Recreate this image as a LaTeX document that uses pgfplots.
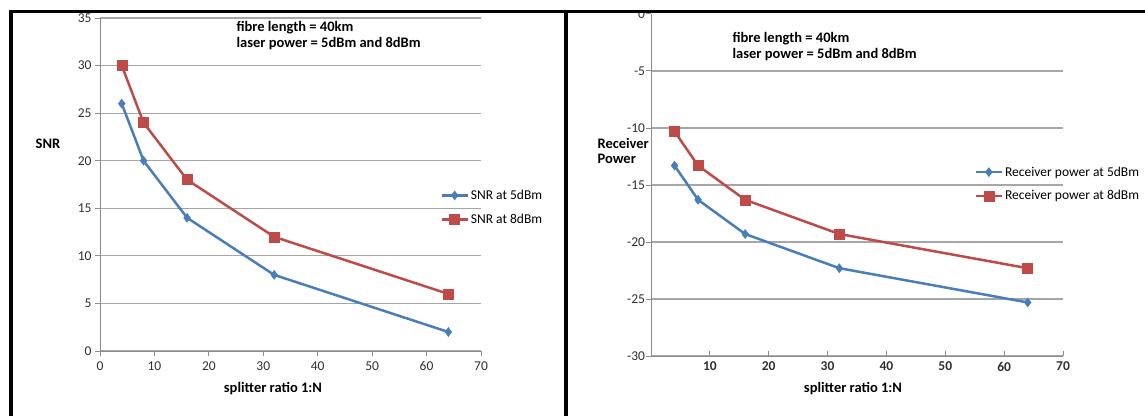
\documentclass[border=0pt]{standalone}
\usepackage{fontspec}
\setmainfont{Carlito}
\usepackage{pgfplots}
\pgfplotsset{compat=1.18}
\definecolor{xblue}{HTML}{4A7EBB}
\definecolor{xred}{HTML}{BE4B48}
\definecolor{axisc}{HTML}{8C8C8C}
\definecolor{gridc}{HTML}{A6A6A6}
\definecolor{tickc}{HTML}{303030}
\pgfplotsset{
  excel/.style={
    scale only axis,
    axis lines=left,
    axis line style={-, draw=axisc, line width=1pt},
    tick style={draw=axisc, line width=1pt},
    major tick length=5pt,
    ymajorgrids,
    grid style={gridc, line width=1.1pt},
    tick label style={font=\fontsize{13.5}{14}\selectfont, text=tickc},
    /pgf/number format/assume math mode=true,
    clip=false,
    legend cell align=left,
    legend style={draw=none, fill=none, font=\fontsize{13.5}{14}\selectfont, row sep=9pt, anchor=north west, inner sep=0pt},
    legend image code/.code={\draw[mark repeat=2,mark phase=2] plot coordinates {(0pt,0pt) (13pt,0pt) (26pt,0pt)};},
  },
  s5/.style={color=xblue, line width=2.5pt, mark=diamond*, mark size=4.5pt, mark options={solid, line width=0.5pt}},
  s8/.style={color=xred, line width=2.5pt, mark=square*, mark size=5pt, mark options={solid, line width=0.5pt}},
}
\begin{document}
\begin{tikzpicture}
\path[use as bounding box] (0pt,0pt) rectangle (1145pt,416pt);
% ---------------- left panel ----------------
\begin{axis}[excel,
  at={(100pt,65pt)}, anchor=south west,
  width=381pt, height=333pt,
  xmin=0, xmax=70, ymin=0, ymax=35,
  xtick={0,10,...,70}, ytick={0,5,...,35},
  tick align=outside,
  xticklabel style={yshift=-2pt},
  legend style={at={(0.893,0.49)}},
]
\addplot[s5] coordinates {(4,26) (8,20) (16,14) (32,8) (64,2)};
\addlegendentry{SNR at 5dBm}
\addplot[s8] coordinates {(4,30) (8,24) (16,18) (32,12) (64,6)};
\addlegendentry{SNR at 8dBm}
\end{axis}
\node[anchor=west, font=\fontsize{14.5}{16}\selectfont\bfseries] at (233pt,388pt) {fibre length = 40km};
\node[anchor=west, font=\fontsize{14.5}{16}\selectfont\bfseries] at (233pt,372pt) {laser power = 5dBm and 8dBm};
\node[font=\fontsize{14.5}{16}\selectfont\bfseries] at (48pt,272pt) {SNR};
\node[font=\fontsize{14.5}{16}\selectfont\bfseries] at (273pt,27pt) {splitter ratio 1:N};
% ---------------- right panel ----------------
\begin{axis}[excel,
  at={(651pt,60pt)}, anchor=south west,
  width=412pt, height=342pt,
  xmin=0, xmax=70, ymin=-30, ymax=0,
  xtick={10,20,...,70}, ytick={-30,-25,...,-5},
  extra y ticks={0}, extra y tick style={grid=none},
  x tick style={/pgfplots/tick align=inside},
  y tick style={/pgfplots/tick align=outside},
  xticklabel style={font=\fontsize{13.5}{14}\selectfont\bfseries},
  legend style={at={(0.785,0.56)}},
]
\addplot[s5] coordinates {(4,-13.3) (8,-16.3) (16,-19.3) (32,-22.3) (64,-25.3)};
\addlegendentry{Receiver power at 5dBm}
\addplot[s8] coordinates {(4,-10.3) (8,-13.3) (16,-16.3) (32,-19.3) (64,-22.3)};
\addlegendentry{Receiver power at 8dBm}
\end{axis}
\node[anchor=west, font=\fontsize{14.5}{16}\selectfont\bfseries] at (729pt,377pt) {fibre length = 40km};
\node[anchor=west, font=\fontsize{14.5}{16}\selectfont\bfseries] at (729pt,361pt) {laser power = 5dBm and 8dBm};
\node[anchor=west, font=\fontsize{14.5}{16}\selectfont\bfseries, align=left] at (594pt,265pt) {Receiver\\[-1pt]Power};
\node[font=\fontsize{14.5}{16}\selectfont\bfseries] at (853pt,27pt) {splitter ratio 1:N};
% ---------------- frame ----------------
\fill[white] (0pt,405pt) rectangle (1145pt,416pt);
\draw[black, line width=3pt] (9pt,404pt) -- (1145pt,404pt);
\draw[black, line width=3.5pt] (11pt,405.5pt) -- (11pt,0pt);
\draw[black, line width=4pt] (566pt,405.5pt) -- (566pt,0pt);
\end{tikzpicture}
\end{document}
